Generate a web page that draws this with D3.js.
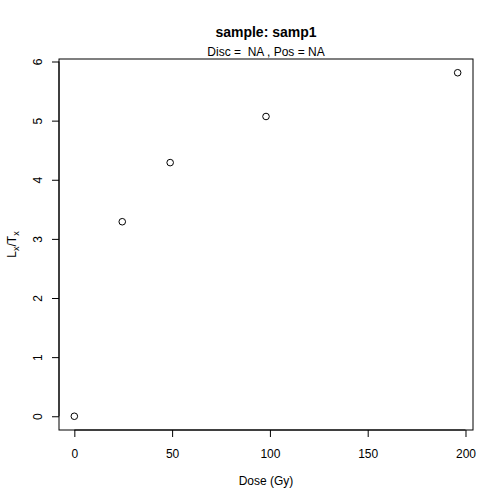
<!DOCTYPE html>
<html lang="en">
<head>
<meta charset="UTF-8">
<title>sample: samp1</title>
<script src="https://d3js.org/d3.v7.min.js"></script>
<style>
    body { margin: 0; background: #fff; }
    svg { display: block; font-family: "Liberation Sans", Arial, Helvetica, sans-serif; }
    text { white-space: pre; }
</style>
</head>
<body>
<svg width="504" height="504"></svg>
<script>
    // dose points (Gy) and Lx/Tx values
    const dose = [0, 24.5, 49, 98, 196];
    const lxtx = [0, 3.29, 4.29, 5.07, 5.81];
    const xTicks = [0, 50, 100, 150, 200];
    const yTicks = [0, 1, 2, 3, 4, 5, 6];

    const svg = d3.select("svg");
    const plotL = 59, plotR = 473, plotT = 59, plotB = 430;

    // R style 4% padding of the data range
    function pad(ext) {
        const d = (ext[1] - ext[0]) * 0.04;
        return [ext[0] - d, ext[1] + d];
    }

    const x = d3.scaleLinear().domain(pad(d3.extent(dose))).range([plotL, plotR]);
    const y = d3.scaleLinear().domain(pad(d3.extent(lxtx))).range([plotB, plotT]);

    // box
    svg.append("rect")
        .attr("x", plotL).attr("y", plotT)
        .attr("width", plotR - plotL).attr("height", plotB - plotT)
        .attr("fill", "none").attr("stroke", "#000").attr("stroke-width", 1);

    // x axis
    const xAxis = svg.append("g")
        .attr("transform", `translate(0,${plotB})`)
        .call(d3.axisBottom(x).tickValues(xTicks).tickSize(7).tickPadding(12).tickFormat(d3.format("d")));
    xAxis.select(".domain").remove();
    xAxis.append("line")
        .attr("x1", x(xTicks[0])).attr("x2", x(xTicks[xTicks.length - 1]))
        .attr("stroke", "#000");
    xAxis.selectAll("text").attr("font-size", 12).attr("fill", "#000");

    // y axis
    const yAxis = svg.append("g")
        .attr("transform", `translate(${plotL},0)`)
        .call(d3.axisLeft(y).tickValues(yTicks).tickSize(7).tickFormat(d3.format("d")));
    yAxis.select(".domain").remove();
    yAxis.append("line")
        .attr("y1", y(yTicks[0])).attr("y2", y(yTicks[yTicks.length - 1]))
        .attr("stroke", "#000");
    yAxis.selectAll(".tick text")
        .attr("font-size", 12).attr("fill", "#000")
        .attr("x", null).attr("dy", null)
        .attr("text-anchor", "middle")
        .attr("transform", "translate(-17,0) rotate(-90)");

    svg.selectAll(".tick text").attr("font-family", null);

    // points
    svg.append("g").selectAll("circle")
        .data(dose)
        .join("circle")
        .attr("cx", d => x(d))
        .attr("cy", (d, i) => y(lxtx[i]))
        .attr("r", 3.3)
        .attr("fill", "none")
        .attr("stroke", "#000")
        .attr("stroke-width", 1);

    // titles
    svg.append("text")
        .attr("x", (plotL + plotR) / 2).attr("y", 37)
        .attr("text-anchor", "middle")
        .attr("font-size", 14).attr("font-weight", "bold")
        .text("sample: samp1");
    svg.append("text")
        .attr("x", (plotL + plotR) / 2).attr("y", 56)
        .attr("text-anchor", "middle")
        .attr("font-size", 12)
        .text("Disc =  NA , Pos = NA");

    svg.append("text")
        .attr("x", (plotL + plotR) / 2).attr("y", 485)
        .attr("text-anchor", "middle")
        .attr("font-size", 12)
        .text("Dose (Gy)");

    const yl = svg.append("text")
        .attr("transform", `translate(16,${(plotT + plotB) / 2}) rotate(-90)`)
        .attr("text-anchor", "middle")
        .attr("font-size", 12);
    yl.append("tspan").text("L");
    yl.append("tspan").attr("font-size", 9).attr("dy", 3).text("x");
    yl.append("tspan").attr("dy", -3).text("/T");
    yl.append("tspan").attr("font-size", 9).attr("dy", 3).text("x");
</script>
</body>
</html>
